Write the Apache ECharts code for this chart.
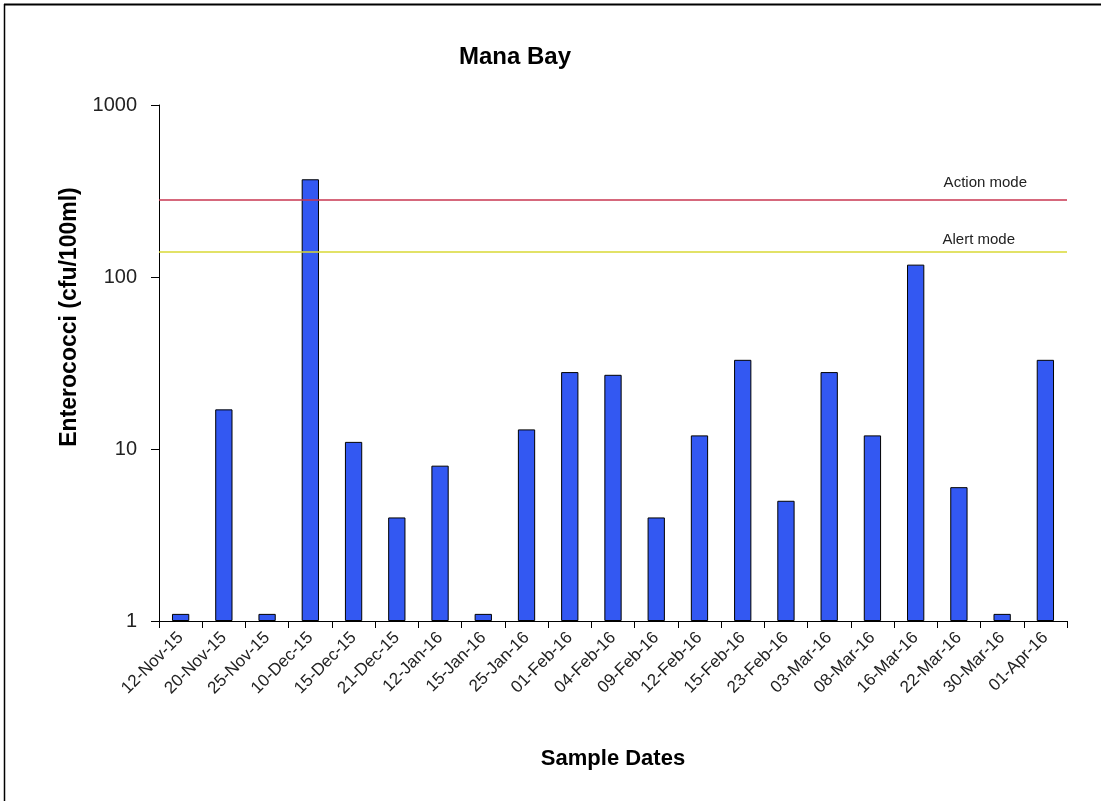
<!DOCTYPE html>
<html>
<head>
<meta charset="utf-8">
<script src="https://cdn.jsdelivr.net/npm/echarts@6/dist/echarts.min.js"></script>
<style>
html,body{margin:0;padding:0;background:#fff;}
#c{width:1101px;height:801px;}
</style>
</head>
<body>
<div id="c"></div>
<script>
const categories = ['12-Nov-15','20-Nov-15','25-Nov-15','10-Dec-15','15-Dec-15','21-Dec-15','12-Jan-16','15-Jan-16','25-Jan-16','01-Feb-16','04-Feb-16','09-Feb-16','12-Feb-16','15-Feb-16','23-Feb-16','03-Mar-16','08-Mar-16','16-Mar-16','22-Mar-16','30-Mar-16','01-Apr-16'];
const enterococci = [1.1,17,1.1,370,11,4,8,1.1,13,28,27,4,12,33,5,28,12,118,6,1.1,33];
const yTicks = [1,10,100,1000];
const actionMode = 280;
const alertMode = 140;

const chart = echarts.init(document.getElementById('c'), null, {renderer:'canvas'});
const FONT = '"Liberation Sans", Arial, sans-serif';
chart.setOption({
  animation: false,
  backgroundColor: '#fff',
  title: {
    text: 'Mana Bay',
    left: 510, top: 40, textAlign: 'center',
    textStyle: {fontFamily: FONT, fontSize: 24, fontWeight: 'bold', color: '#000'}
  },
  grid: {left: 159, right: 34, top: 105, bottom: 180, containLabel: false},
  xAxis: {
    type: 'category',
    data: categories,
    name: 'Sample Dates',
    nameLocation: 'middle',
    nameGap: 127,
    nameTextStyle: {fontFamily: FONT, fontSize: 22, fontWeight: 'bold', color: '#000'},
    axisLine: {lineStyle: {color: '#000', width: 1}},
    axisTick: {show: true, alignWithLabel: false, length: 7, lineStyle: {color: '#000'}},
    axisLabel: {rotate: 45, interval: 0, margin: 14, fontFamily: FONT, fontSize: 17, color: '#222'}
  },
  yAxis: {
    type: 'log',
    logBase: 10,
    min: yTicks[0],
    max: yTicks[yTicks.length-1],
    name: 'Enterococci (cfu/100ml)',
    nameLocation: 'middle',
    nameGap: 78,
    nameTextStyle: {fontFamily: FONT, fontSize: 23, fontWeight: 'bold', color: '#000', padding: [0,0,0,92]},
    axisLine: {show: true, lineStyle: {color: '#000', width: 1}},
    axisTick: {show: true, length: 8, lineStyle: {color: '#000'}},
    splitLine: {show: false},
    axisLabel: {margin: 22, fontFamily: FONT, fontSize: 20, color: '#222', formatter: v => String(v)}
  },
  series: [{
    type: 'bar',
    data: enterococci,
    barWidth: '40%',
    itemStyle: {color: '#3358F2', borderColor: '#000', borderWidth: 1},
    markLine: {
      silent: true,
      symbol: 'none',
      data: [
        {yAxis: actionMode, name: 'Action mode',
         lineStyle: {color: '#C83650', width: 1.5, type: 'solid'},
         label: {show: true, position: 'insideEndTop', formatter: 'Action mode', distance: 10,
                 padding: [0, 30, 0, 0], fontFamily: FONT, fontSize: 15, color: '#222'}},
        {yAxis: alertMode, name: 'Alert mode',
         lineStyle: {color: '#D8D834', width: 1.5, type: 'solid'},
         label: {show: true, position: 'insideEndTop', formatter: 'Alert mode', distance: 5,
                 padding: [0, 47, 0, 0], fontFamily: FONT, fontSize: 15, color: '#222'}}
      ]
    }
  }],
  graphic: [
    {type: 'line', shape: {x1: 4, y1: 4.5, x2: 1101, y2: 4.5}, style: {stroke: '#000', lineWidth: 2}},
    {type: 'line', shape: {x1: 4.5, y1: 4, x2: 4.5, y2: 801}, style: {stroke: '#000', lineWidth: 1.5}}
  ]
});
</script>
</body>
</html>
